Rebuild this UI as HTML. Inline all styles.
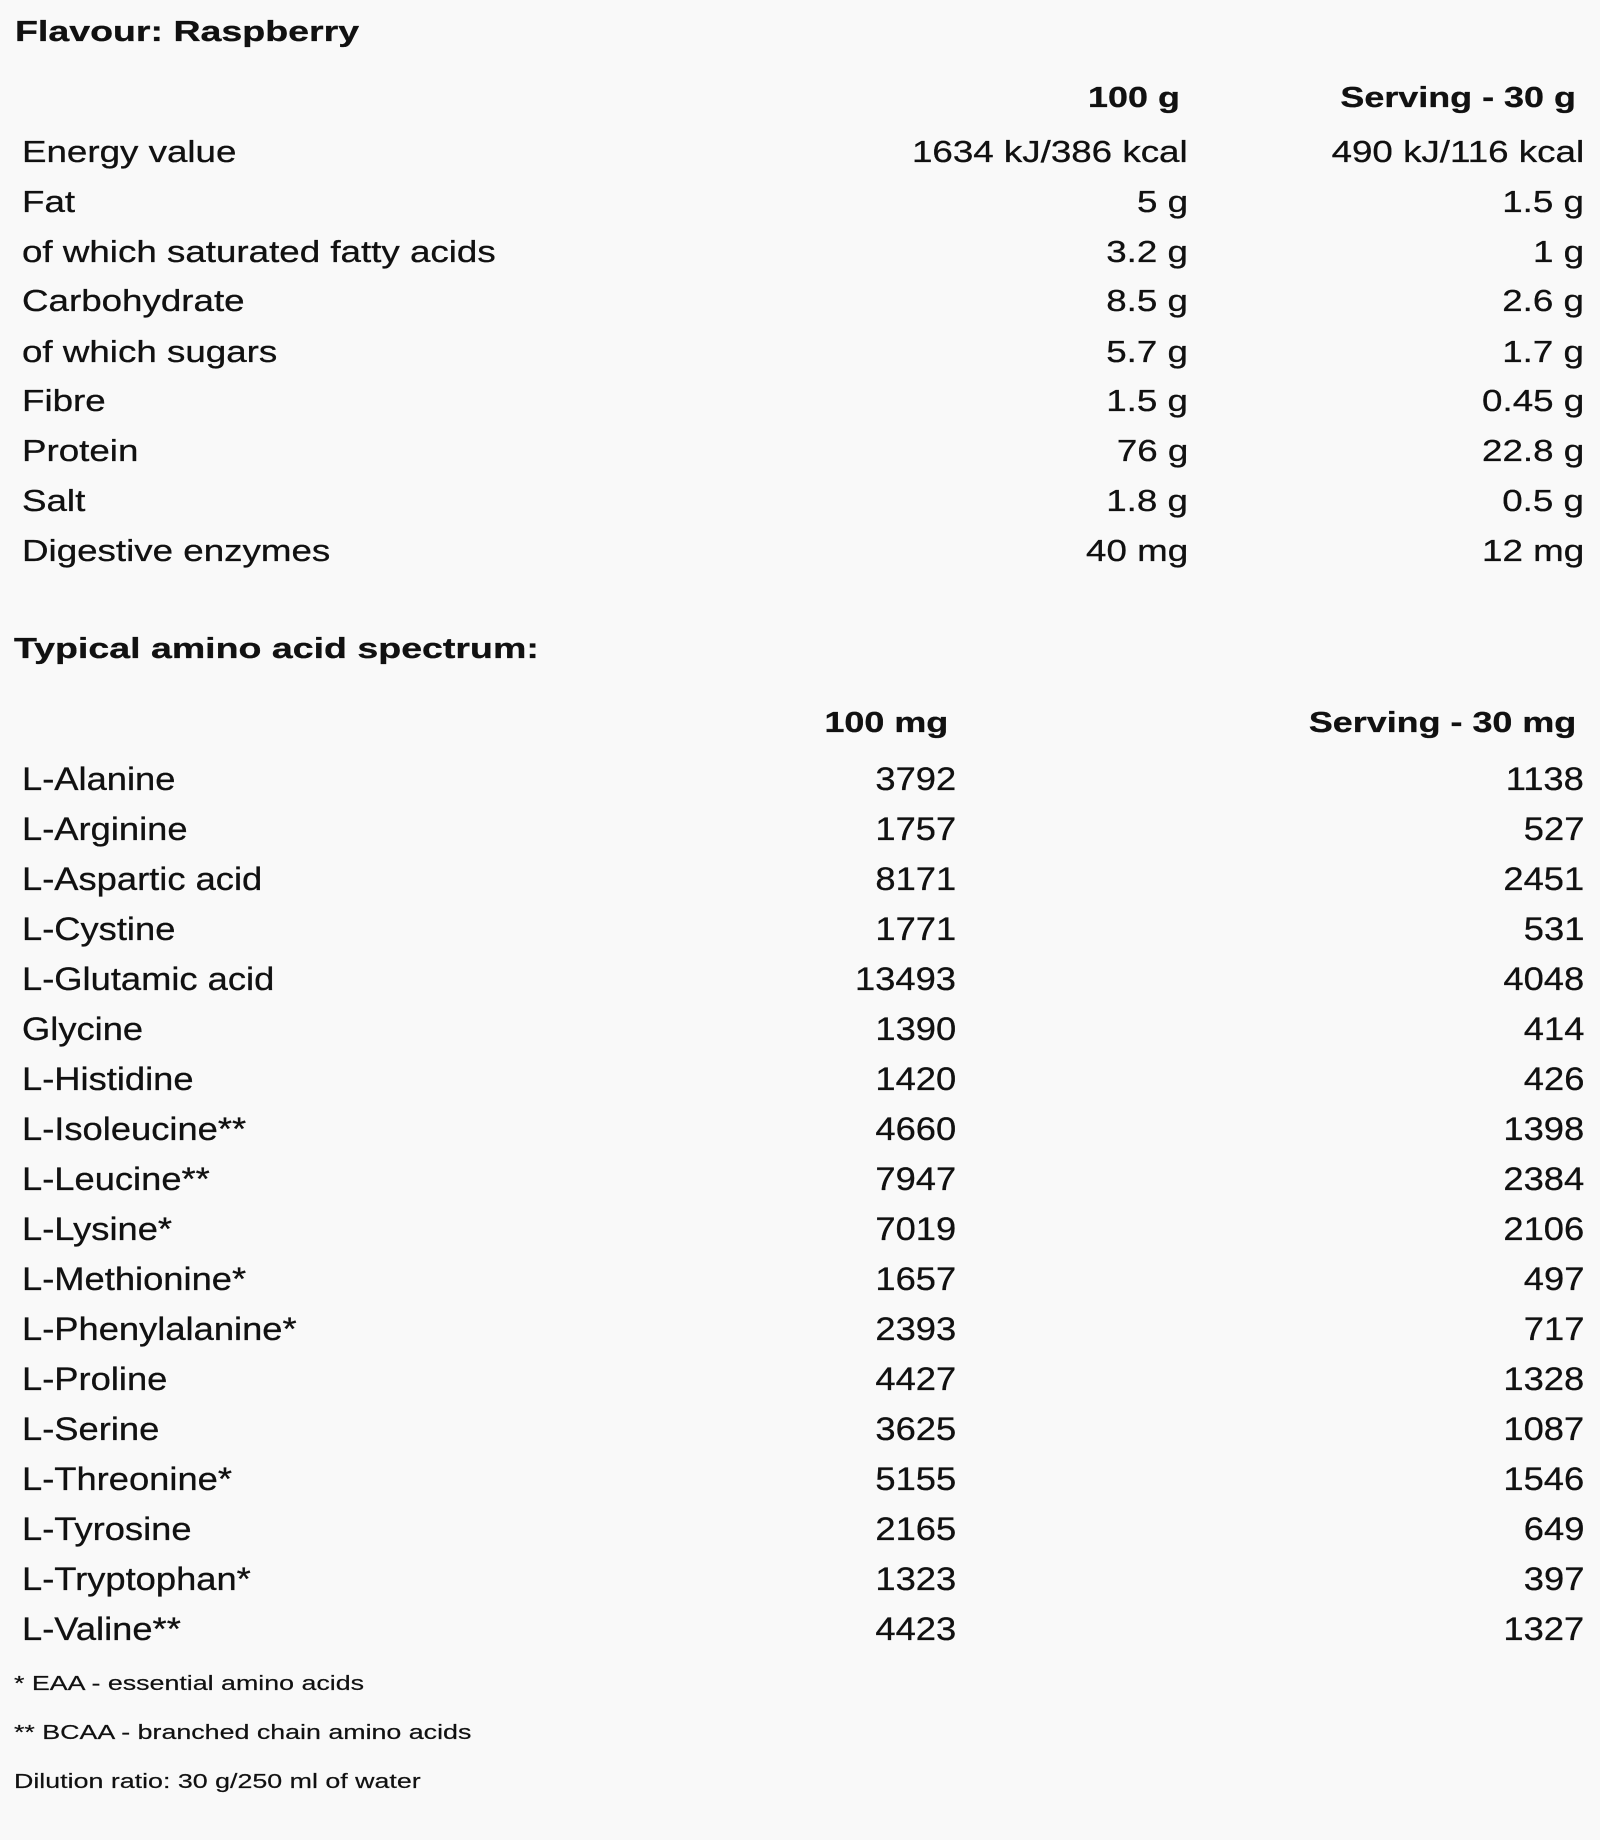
<!DOCTYPE html>
<html>
<head>
<meta charset="utf-8">
<style>
  html, body { margin:0; padding:0; }
  body { width:1600px; height:1840px; background:#f9f9f9; position:relative; overflow:hidden;
         font-family:"Liberation Sans", Arial, sans-serif; color:#111; }
  .t { position:absolute; white-space:nowrap; line-height:1; -webkit-text-stroke:0.3px #111; }
  .L { transform-origin:0 0; }
  .R { transform-origin:100% 0; }
  .title { font-size:29px; font-weight:bold; transform:scaleX(1.294); }
  .hdr { font-size:28.5px; font-weight:bold; transform:scaleX(1.26); }
  .reg { font-size:31px; transform:scaleX(1.185); }
  .am { font-size:32px; transform:scaleX(1.135); }
  .fn { font-size:20px; transform:scaleX(1.34); -webkit-text-stroke:0.2px #111; }
</style>
</head>
<body>
<!-- Top section -->
<div class="t L title" style="left:15px;top:18px;">Flavour: Raspberry</div>
<div class="t R hdr" style="right:420px;top:84px;">100 g</div>
<div class="t R hdr" style="right:24px;top:84px;">Serving - 30 g</div>

<div class="t L reg" style="left:22px;top:136px;">Energy value</div>
<div class="t R reg" style="right:412px;top:136px;">1634 kJ/386 kcal</div>
<div class="t R reg" style="right:16px;top:136px;">490 kJ/116 kcal</div>

<div class="t L reg" style="left:22px;top:186px;">Fat</div>
<div class="t R reg" style="right:412px;top:186px;">5 g</div>
<div class="t R reg" style="right:16px;top:186px;">1.5 g</div>

<div class="t L reg" style="left:22px;top:236px;">of which saturated fatty acids</div>
<div class="t R reg" style="right:412px;top:236px;">3.2 g</div>
<div class="t R reg" style="right:16px;top:236px;">1 g</div>

<div class="t L reg" style="left:22px;top:285px;">Carbohydrate</div>
<div class="t R reg" style="right:412px;top:285px;">8.5 g</div>
<div class="t R reg" style="right:16px;top:285px;">2.6 g</div>

<div class="t L reg" style="left:22px;top:336px;">of which sugars</div>
<div class="t R reg" style="right:412px;top:336px;">5.7 g</div>
<div class="t R reg" style="right:16px;top:336px;">1.7 g</div>

<div class="t L reg" style="left:22px;top:385px;">Fibre</div>
<div class="t R reg" style="right:412px;top:385px;">1.5 g</div>
<div class="t R reg" style="right:16px;top:385px;">0.45 g</div>

<div class="t L reg" style="left:22px;top:435px;">Protein</div>
<div class="t R reg" style="right:412px;top:435px;">76 g</div>
<div class="t R reg" style="right:16px;top:435px;">22.8 g</div>

<div class="t L reg" style="left:22px;top:485px;">Salt</div>
<div class="t R reg" style="right:412px;top:485px;">1.8 g</div>
<div class="t R reg" style="right:16px;top:485px;">0.5 g</div>

<div class="t L reg" style="left:22px;top:535px;">Digestive enzymes</div>
<div class="t R reg" style="right:412px;top:535px;">40 mg</div>
<div class="t R reg" style="right:16px;top:535px;">12 mg</div>

<!-- Amino section -->
<div class="t L title" style="left:14px;top:635px;">Typical amino acid spectrum:</div>
<div class="t R hdr" style="right:652px;top:709px;">100 mg</div>
<div class="t R hdr" style="right:24px;top:709px;">Serving - 30 mg</div>

<div class="t L am" style="left:22px;top:763px;">L-Alanine</div>
<div class="t R am" style="right:644px;top:763px;">3792</div>
<div class="t R am" style="right:16px;top:763px;">1138</div>

<div class="t L am" style="left:22px;top:813px;">L-Arginine</div>
<div class="t R am" style="right:644px;top:813px;">1757</div>
<div class="t R am" style="right:16px;top:813px;">527</div>

<div class="t L am" style="left:22px;top:863px;">L-Aspartic acid</div>
<div class="t R am" style="right:644px;top:863px;">8171</div>
<div class="t R am" style="right:16px;top:863px;">2451</div>

<div class="t L am" style="left:22px;top:913px;">L-Cystine</div>
<div class="t R am" style="right:644px;top:913px;">1771</div>
<div class="t R am" style="right:16px;top:913px;">531</div>

<div class="t L am" style="left:22px;top:963px;">L-Glutamic acid</div>
<div class="t R am" style="right:644px;top:963px;">13493</div>
<div class="t R am" style="right:16px;top:963px;">4048</div>

<div class="t L am" style="left:22px;top:1013px;">Glycine</div>
<div class="t R am" style="right:644px;top:1013px;">1390</div>
<div class="t R am" style="right:16px;top:1013px;">414</div>

<div class="t L am" style="left:22px;top:1063px;">L-Histidine</div>
<div class="t R am" style="right:644px;top:1063px;">1420</div>
<div class="t R am" style="right:16px;top:1063px;">426</div>

<div class="t L am" style="left:22px;top:1113px;">L-Isoleucine**</div>
<div class="t R am" style="right:644px;top:1113px;">4660</div>
<div class="t R am" style="right:16px;top:1113px;">1398</div>

<div class="t L am" style="left:22px;top:1163px;">L-Leucine**</div>
<div class="t R am" style="right:644px;top:1163px;">7947</div>
<div class="t R am" style="right:16px;top:1163px;">2384</div>

<div class="t L am" style="left:22px;top:1213px;">L-Lysine*</div>
<div class="t R am" style="right:644px;top:1213px;">7019</div>
<div class="t R am" style="right:16px;top:1213px;">2106</div>

<div class="t L am" style="left:22px;top:1263px;">L-Methionine*</div>
<div class="t R am" style="right:644px;top:1263px;">1657</div>
<div class="t R am" style="right:16px;top:1263px;">497</div>

<div class="t L am" style="left:22px;top:1313px;">L-Phenylalanine*</div>
<div class="t R am" style="right:644px;top:1313px;">2393</div>
<div class="t R am" style="right:16px;top:1313px;">717</div>

<div class="t L am" style="left:22px;top:1363px;">L-Proline</div>
<div class="t R am" style="right:644px;top:1363px;">4427</div>
<div class="t R am" style="right:16px;top:1363px;">1328</div>

<div class="t L am" style="left:22px;top:1413px;">L-Serine</div>
<div class="t R am" style="right:644px;top:1413px;">3625</div>
<div class="t R am" style="right:16px;top:1413px;">1087</div>

<div class="t L am" style="left:22px;top:1463px;">L-Threonine*</div>
<div class="t R am" style="right:644px;top:1463px;">5155</div>
<div class="t R am" style="right:16px;top:1463px;">1546</div>

<div class="t L am" style="left:22px;top:1513px;">L-Tyrosine</div>
<div class="t R am" style="right:644px;top:1513px;">2165</div>
<div class="t R am" style="right:16px;top:1513px;">649</div>

<div class="t L am" style="left:22px;top:1563px;">L-Tryptophan*</div>
<div class="t R am" style="right:644px;top:1563px;">1323</div>
<div class="t R am" style="right:16px;top:1563px;">397</div>

<div class="t L am" style="left:22px;top:1613px;">L-Valine**</div>
<div class="t R am" style="right:644px;top:1613px;">4423</div>
<div class="t R am" style="right:16px;top:1613px;">1327</div>

<!-- Footnotes -->
<div class="t L fn" style="left:14px;top:1674px;">* EAA - essential amino acids</div>
<div class="t L fn" style="left:14px;top:1723px;">** BCAA - branched chain amino acids</div>
<div class="t L fn" style="left:14px;top:1772px;">Dilution ratio: 30 g/250 ml of water</div>
</body>
</html>
